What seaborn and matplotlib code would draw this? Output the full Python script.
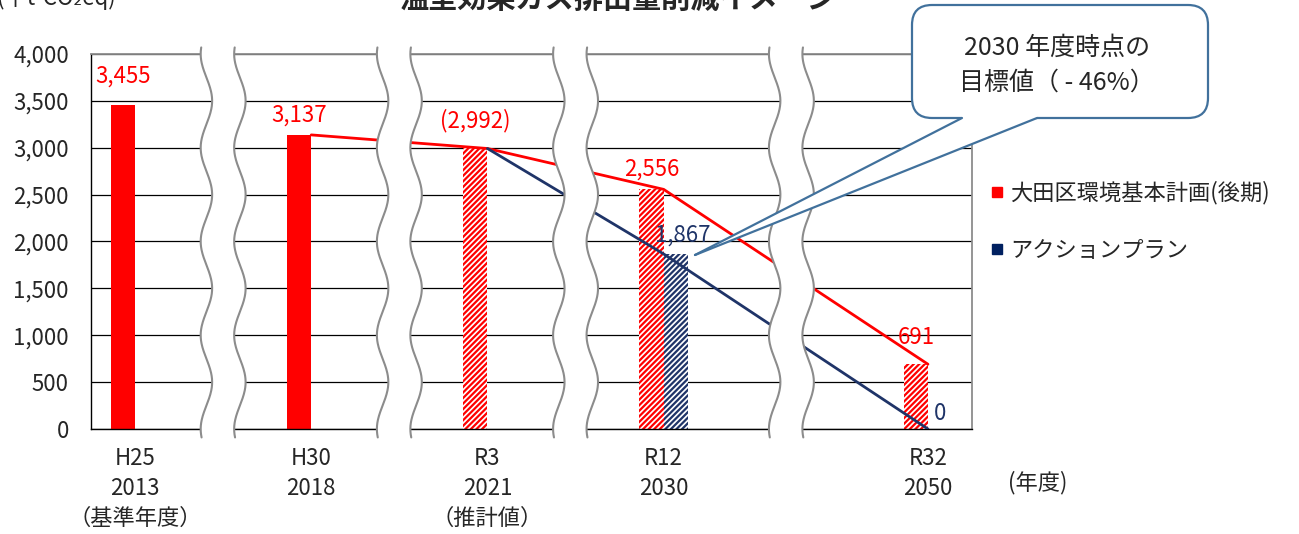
import numpy as np
import pandas as pd
import matplotlib
matplotlib.use("Agg")
import matplotlib.pyplot as plt
import seaborn as sns
from matplotlib.lines import Line2D
from matplotlib.patches import FancyBboxPatch, Polygon

# ---- data -----------------------------------------------------------------
# x-axis slots; the "gap" slots are blank spacers between the fiscal years
slots = ["2013", "gap1", "2018", "gap2", "2021", "gap3", "2030", "gap4", "gap5", "2050"]
era_labels = ["H25", "H30", "R3", "R12", "R32"]
fiscal_years = ["2013", "2018", "2021", "2030", "2050"]
year_notes = ["（基準年度）", "", "（推計値）", "", ""]

plan_name = "大田区環境基本計画(後期)"
action_name = "アクションプラン"

plan_years = ["2013", "2018", "2021", "2030", "2050"]
plan_values = [3455, 3137, 2992, 2556, 691]
action_years = ["2030", "2050"]
action_values = [1867, 0]

plan_line_years = ["2018", "2021", "2030", "2050"]
plan_line_values = [3137, 2992, 2556, 691]
action_line_years = ["2021", "2030", "2050"]
action_line_values = [2992, 1867, 0]

actual_years = ["2013", "2018"]      # results: solid bars, others hatched
estimate_years = ["2021"]            # estimate: value shown in parentheses
y_ticks = [0, 500, 1000, 1500, 2000, 2500, 3000, 3500, 4000]

# ---- style ----------------------------------------------------------------
RED = "#FF0000"
NAVY = "#1F3468"
GREY = "#8C8C8C"
CALLOUT = "#41719C"

sns.set_style("white")
plt.rcParams["font.family"] = ["Noto Sans CJK JP", "DejaVu Sans"]
plt.rcParams["hatch.linewidth"] = 1.6

W, H = 1299, 534
fig = plt.figure(figsize=(W / 100, H / 100), dpi=100)
ax = fig.add_axes([91 / W, (H - 429) / H, (972 - 91) / W, (429 - 54) / H])

df = pd.DataFrame({
    "year": plan_years + action_years,
    "series": [plan_name] * len(plan_years) + [action_name] * len(action_years),
    "value": plan_values + action_values,
})

sns.barplot(data=df, x="year", y="value", hue="series", order=slots,
            hue_order=[plan_name, action_name], palette=[RED, NAVY],
            width=0.55, dodge=True, saturation=1, errorbar=None,
            legend=False, ax=ax, zorder=2)

# hatch the estimated / target bars
for p in ax.patches:
    cx = p.get_x() + p.get_width() / 2
    slot = int(round(cx))
    color = RED if cx < slot else NAVY
    p.set_linewidth(0)
    if slots[slot] not in actual_years:
        p.set_facecolor("white")
        p.set_edgecolor(color)
        p.set_hatch("//////")
        p.set_linewidth(0)

# trend lines
sns.lineplot(x=[slots.index(y) for y in plan_line_years], y=plan_line_values,
             color=RED, linewidth=2.0, ax=ax, zorder=3)
sns.lineplot(x=[slots.index(y) for y in action_line_years], y=action_line_values,
             color=NAVY, linewidth=2.0, ax=ax, zorder=3)

# value labels
plan_offsets = [29, 20, 28, 20, 27]
for yr, v, off in zip(plan_years, plan_values, plan_offsets):
    txt = f"{v:,}"
    if yr in estimate_years:
        txt = f"({txt})"
    ax.annotate(txt, (slots.index(yr) - 0.1375, v), xytext=(0, off),
                textcoords="offset pixels", ha="center", va="center",
                color=RED, fontsize=16, zorder=4)
action_offsets = [(7, 19), (0, 16)]
for yr, v, off in zip(action_years, action_values, action_offsets):
    ax.annotate(f"{v:,}", (slots.index(yr) + 0.1375, v), xytext=off,
                textcoords="offset pixels", ha="center", va="center",
                color=NAVY, fontsize=16, zorder=4)

# axes
ax.set_xlim(-0.5, 9.5)
ax.set_ylim(0, 4000)
ax.set_yticks(y_ticks)
ax.set_yticklabels([f"{v:,}" for v in y_ticks])
ax.grid(axis="y", color="black", linewidth=0.9, zorder=0)
ax.set_axisbelow(True)
ax.set_xlabel("")
ax.set_ylabel("")

pos = [slots.index(y) for y in fiscal_years]
ax.set_xticks(pos)
ax.set_xticklabels(["\n".join(s for s in (e, y, n) if s)
                    for e, y, n in zip(era_labels, fiscal_years, year_notes)])
for t in ax.get_xticklabels():
    t.set_linespacing(1.38)
ax.set_xticks(np.arange(0.5, 9.0, 1.0), minor=True)
ax.tick_params(axis="x", which="major", length=0, pad=13, labelsize=16)
ax.tick_params(axis="x", which="minor", direction="in", length=6, width=1,
               color="black")
ax.tick_params(axis="y", length=0, pad=16, labelsize=16)

for side in ("left", "bottom"):
    ax.spines[side].set_color("black")
    ax.spines[side].set_linewidth(1.0)
for side in ("top", "right"):
    ax.spines[side].set_color(GREY)
    ax.spines[side].set_linewidth(1.3)

# wavy axis breaks between the year groups
break_centres = [1.0, 3.0, 5.0, 7.45]
yy = np.linspace(-90, 4070, 400)
wave = 0.065 * np.cos(2 * np.pi * (yy - 3500) / 1000)
for c in break_centres:
    xl = c - 0.19 + wave
    xr = c + 0.19 + wave
    ax.fill(np.concatenate([xl, xr[::-1]]), np.concatenate([yy, yy[::-1]]),
            color="white", zorder=6, clip_on=False, linewidth=0)
    ax.plot(xl, yy, color=GREY, linewidth=1.5, zorder=7, clip_on=False)
    ax.plot(xr, yy, color=GREY, linewidth=1.5, zorder=7, clip_on=False)

# titles and unit labels
fig.text(618 / W, 1 + 1 / H, "温室効果ガス排出量削減イメージ", ha="center",
         va="center", fontsize=21, fontweight="bold")
fig.text(-3 / W, 1 + 2 / H, "(千t-CO₂eq)", ha="left", va="center", fontsize=16)
fig.text(1038 / W, 1 - 483 / H, "(年度)", ha="center", va="center", fontsize=16)

# legend
handles = [Line2D([], [], marker="s", linestyle="", color=RED, markersize=7),
           Line2D([], [], marker="s", linestyle="", color="#002060", markersize=7)]
fig.legend(handles, [plan_name, action_name], loc="upper left",
           bbox_to_anchor=(990 / W, 1 - 181 / H), frameon=False, fontsize=16,
           labelspacing=1.55, handlelength=0.6, handletextpad=0.3,
           borderpad=0, borderaxespad=0)

# callout
tr = fig.dpi_scale_trans
box = FancyBboxPatch((9.12, 4.16), 2.96, 1.13,
                     boxstyle="round,pad=0,rounding_size=0.2",
                     facecolor="white", edgecolor=CALLOUT, linewidth=1.6,
                     transform=tr, zorder=10)
fig.patches.append(box)
tip = (6.95, (H - 255) / 100)
fill = Polygon([(9.62, 4.16), (9.62, 4.2), (10.37, 4.2), (10.37, 4.16), tip],
               closed=True, facecolor="white", edgecolor="none",
               transform=tr, zorder=11)
fig.patches.append(fill)
for bx in (9.62, 10.37):
    fig.lines.append(Line2D([bx, tip[0]], [4.16, tip[1]], color=CALLOUT,
                            linewidth=1.6, transform=tr, zorder=12))
fig.text(10.57, (H - 65) / 100, "2030 年度時点の\n目標値（ - 46%）",
         transform=tr, ha="center", va="center", fontsize=18,
         linespacing=1.45, zorder=13)

fig.savefig("out.png", dpi=100)
